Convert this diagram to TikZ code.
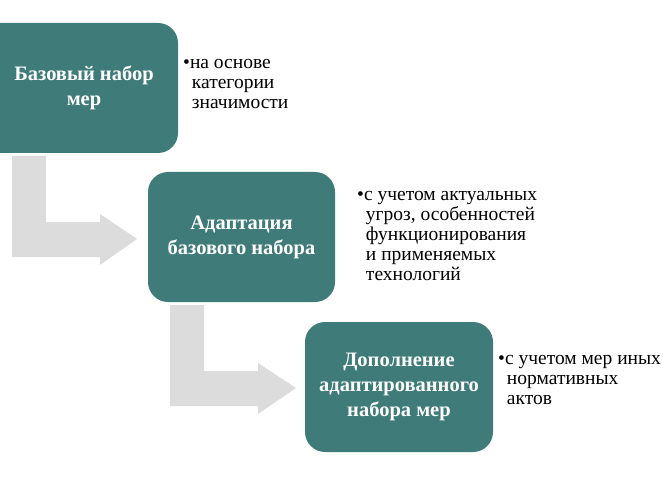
\documentclass[tikz,border=0pt]{standalone}
\usepackage{fontspec}
\setmainfont{Liberation Serif}
\begin{document}
\begin{tikzpicture}[x=1pt,y=-1pt,
  box/.style={text=white,font=\bfseries\fontsize{20.5}{25}\selectfont,align=center},
  arr/.style={fill=arrc},
  note/.style={anchor=north west,align=left,font=\fontsize{19.5}{20}\selectfont,inner sep=0pt}]
\definecolor{boxc}{HTML}{3F7C79}
\definecolor{arrc}{HTML}{DCDCDC}
\useasboundingbox (0,0) rectangle (663,481);
\clip (0,0) rectangle (663,481);
% arrows
\fill[arr] (12,156) -- (46,156) -- (46,222) -- (100,222) -- (100,214) -- (137,239) -- (100,265) -- (100,257) -- (12,257) -- cycle;
\fill[arr] (170,305) -- (204,305) -- (204,371) -- (258,371) -- (258,363) -- (296,388) -- (258,414) -- (258,406) -- (170,406) -- cycle;
% boxes
\fill[boxc,rounded corners=20pt] (-25,23) rectangle (178,153);
\node[box] (b1) at (84,88) {Базовый набор\\мер};
\fill[boxc,rounded corners=20pt] (148,172) rectangle (335,302);
\node[box] (b2) at (241.5,237) {Адаптация\\базового набора};
\fill[boxc,rounded corners=20pt] (305,322) rectangle (493,452);
\node[box] (b3) at (399,387) {Дополнение\\адаптированного\\набора мер};
% notes
\node[note] (n1) at (183,59) {•на основе\\\hspace*{0.45em}категории\\\hspace*{0.45em}значимости};
\node[note] (n2) at (357,191) {•с учетом актуальных\\\hspace*{0.45em}угроз, особенностей\\\hspace*{0.45em}функционирования\\\hspace*{0.45em}и применяемых\\\hspace*{0.45em}технологий};
\node[note] (n3) at (498,355) {•с учетом мер иных\\\hspace*{0.45em}нормативных\\\hspace*{0.45em}актов};
\end{tikzpicture}
\end{document}
